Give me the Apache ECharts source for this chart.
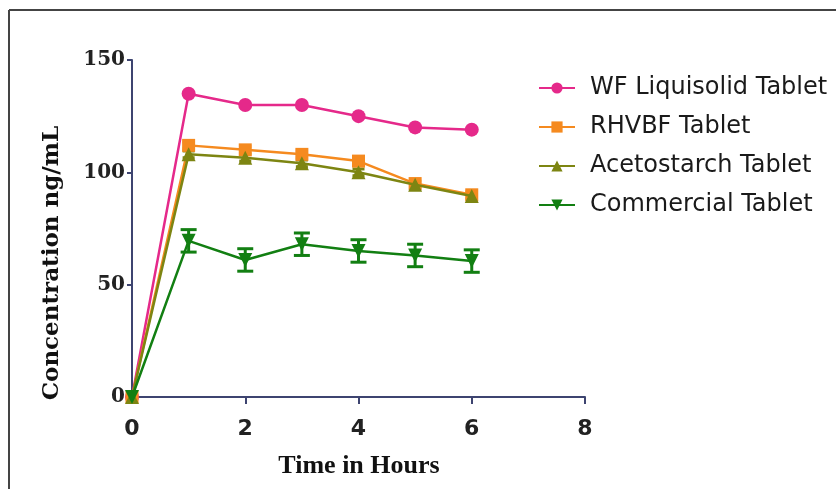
<!DOCTYPE html>
<html>
<head>
<meta charset="utf-8">
<script src="https://cdn.jsdelivr.net/npm/echarts@6/dist/echarts.min.js"></script>
<style>html,body{margin:0;padding:0;background:#fff}#c{width:836px;height:489px}</style>
</head>
<body>
<div id="c"></div>
<script>
var hours = [0, 1, 2, 3, 4, 5, 6];
var seriesNames = ['WF Liquisolid Tablet', 'RHVBF Tablet', 'Acetostarch Tablet', 'Commercial Tablet'];
var wfValues = [0, 135, 130, 130, 125, 120, 119];
var rhvbfValues = [0, 112, 110, 108, 105, 95, 90];
var acetoValues = [0, 108, 106.5, 104, 100, 94.5, 89.5];
var commercialValues = [0, 69.5, 61, 68, 65, 63, 60.5];
var wfErr = [0, 1, 1, 1, 1, 1, 1];
var rhvbfErr = [0, 1.5, 1.5, 1.5, 1.5, 1.5, 1.5];
var acetoErr = [0, 1.5, 1.5, 1.5, 1.5, 1.5, 1.5];
var commercialErr = [0, 5, 5, 5, 5, 5, 5];
var xTicks = [0, 2, 4, 6, 8];
var yTicks = [0, 50, 100, 150];

var colors = ['#e5298a', '#f58a1f', '#7d8512', '#127f12'];
var symbols = ['circle', 'rect', 'triangle', 'triangle'];
var rotations = [0, 0, 0, 180];
var capHalf = [5, 6, 6, 8];
var valueSets = [wfValues, rhvbfValues, acetoValues, commercialValues];
var errSets = [wfErr, rhvbfErr, acetoErr, commercialErr];

function pairs(vals) { return hours.map(function (h, i) { return [h, vals[i]]; }); }

var series = [];
valueSets.forEach(function (vals, k) {
  var errData = hours.map(function (h, i) { return [h, vals[i] - errSets[k][i], vals[i] + errSets[k][i]]; });
  series.push({
    type: 'custom',
    name: seriesNames[k] + ' err',
    z: 1,
    silent: true,
    data: errData,
    renderItem: function (params, api) {
      var x = api.value(0), lo = api.value(1), hi = api.value(2);
      if (hi - lo <= 0) return null;
      var p1 = api.coord([x, lo]), p2 = api.coord([x, hi]);
      var w = capHalf[k];
      var st = { stroke: colors[k], lineWidth: 3 };
      return {
        type: 'group',
        children: [
          { type: 'line', shape: { x1: p1[0], y1: p1[1], x2: p2[0], y2: p2[1] }, style: st },
          { type: 'line', shape: { x1: p1[0] - w, y1: p1[1], x2: p1[0] + w, y2: p1[1] }, style: st },
          { type: 'line', shape: { x1: p2[0] - w, y1: p2[1], x2: p2[0] + w, y2: p2[1] }, style: st }
        ]
      };
    }
  });
  series.push({
    type: 'line',
    name: seriesNames[k],
    z: 2 + k,
    data: pairs(vals),
    symbol: symbols[k],
    symbolRotate: rotations[k],
    symbolSize: k === 1 ? 13 : 14,
    showAllSymbol: true,
    itemStyle: { color: colors[k] },
    lineStyle: { color: colors[k], width: 2.5 }
  });
});

var chart = echarts.init(document.getElementById('c'));
chart.setOption({
  animation: false,
  backgroundColor: '#fff',
  grid: { left: 132, right: 251, top: 60, bottom: 92, containLabel: false },
  legend: {
    data: seriesNames,
    orient: 'vertical',
    left: 538,
    top: 76,
    padding: 0,
    itemWidth: 36,
    itemHeight: 14,
    itemGap: 15,
    textStyle: { fontFamily: 'DejaVu Sans', fontSize: 24, color: '#1a1a1a', padding: [0, 0, 0, 10] }
  },
  xAxis: {
    type: 'value',
    min: 0, max: 8, interval: 2,
    axisLine: { show: true, lineStyle: { color: '#3d4470', width: 2 } },
    axisTick: { show: true, length: 7, lineStyle: { color: '#3d4470', width: 2 } },
    splitLine: { show: false },
    axisLabel: {
      margin: 21,
      fontFamily: 'DejaVu Sans', fontWeight: 'bold', fontSize: 22, color: '#222',
      formatter: function (v) { return xTicks.indexOf(v) >= 0 ? String(v) : ''; }
    }
  },
  yAxis: {
    type: 'value',
    min: 0, max: 150, interval: 50,
    axisLine: { show: true, lineStyle: { color: '#3d4470', width: 2 } },
    axisTick: { show: true, length: 5, lineStyle: { color: '#3d4470', width: 2 } },
    splitLine: { show: false },
    axisLabel: {
      margin: 7,
      fontFamily: 'DejaVu Serif', fontWeight: 'bold', fontSize: 20, color: '#222',
      formatter: function (v) { return yTicks.indexOf(v) >= 0 ? String(v) : ''; }
    }
  },
  graphic: [
    { type: 'line', shape: { x1: 9, y1: 10, x2: 836, y2: 10 }, style: { stroke: '#444', lineWidth: 2 } },
    { type: 'line', shape: { x1: 9, y1: 10, x2: 9, y2: 489 }, style: { stroke: '#444', lineWidth: 2 } },
    {
      type: 'text', x: 52, y: 263, rotation: Math.PI / 2,
      style: { text: 'Concentration ng/mL', font: 'bold 23px "DejaVu Serif"', fill: '#111', textAlign: 'center', textVerticalAlign: 'middle' }
    },
    {
      type: 'text', x: 359, y: 466,
      style: { text: 'Time in Hours', font: 'bold 26px "Liberation Serif"', fill: '#111', textAlign: 'center', textVerticalAlign: 'middle' }
    }
  ],
  series: series
});
</script>
</body>
</html>
